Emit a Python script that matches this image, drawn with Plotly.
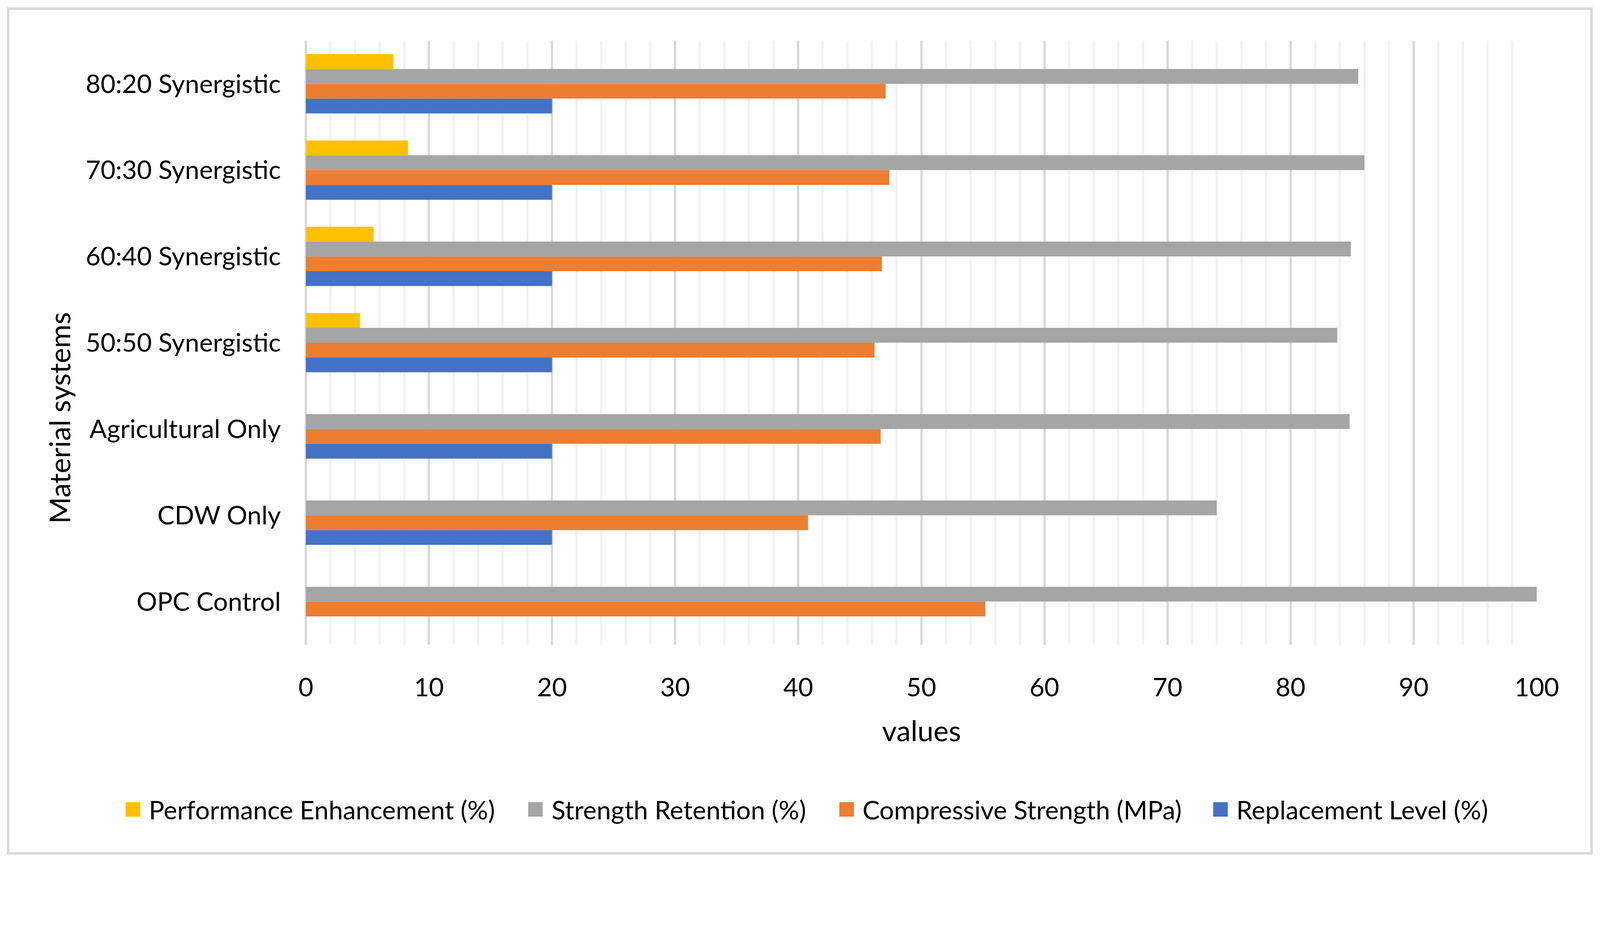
import plotly.graph_objects as go

# ---------------- data ----------------
categories = ["OPC Control", "CDW Only", "Agricultural Only", "50:50 Synergistic",
              "60:40 Synergistic", "70:30 Synergistic", "80:20 Synergistic"]
replacement_level = [0, 20, 20, 20, 20, 20, 20]
compressive_strength = [55.2, 40.8, 46.7, 46.2, 46.8, 47.4, 47.1]
strength_retention = [100, 74.0, 84.8, 83.8, 84.9, 86.0, 85.5]
performance_enhancement = [0, 0, 0, 4.4, 5.5, 8.3, 7.1]

series_names = ["Replacement Level (%)", "Compressive Strength (MPa)",
                "Strength Retention (%)", "Performance Enhancement (%)"]
series_values = [replacement_level, compressive_strength,
                 strength_retention, performance_enhancement]
x_ticks = list(range(0, 101, 10))

# ---------------- styles ----------------
colors = ["#4472C4", "#ED7D31", "#A5A5A5", "#FFC000"]
FONT = "Lato"

# rendering scale compensation (screen px -> css px)
K = 1.077
OFF = 8


def pos(p):
    return p / K - OFF


def size(s):
    return s / K


W, H = 4077, 2189
L = pos(843)
PR = pos(4237)
T = pos(112)
PB = pos(1777)
R = W - PR
B = H - PB
PW, PH = PR - L, PB - T


def px_x(p):
    return (pos(p) - L) / PW


def px_y(p):
    return (PB - pos(p)) / PH


fig = go.Figure()
for name, vals, col in zip(series_names, series_values, colors):
    fig.add_trace(go.Bar(y=categories, x=vals, name=name, orientation="h",
                         marker=dict(color=col, line=dict(width=0)),
                         showlegend=False))

TICK_FS = size(71)
TITLE_FS = size(79)

fig.update_layout(
    width=W, height=H,
    margin=dict(l=L, r=R, t=T, b=B, autoexpand=False),
    paper_bgcolor="white", plot_bgcolor="white",
    barmode="group", bargap=0.313, bargroupgap=0,
    font=dict(family=FONT, size=TICK_FS, color="black"),
)
fig.update_xaxes(range=[0, 100], tickvals=x_ticks, ticktext=[str(v) for v in x_ticks],
                 showgrid=True, gridcolor="#D9D9D9", gridwidth=size(7),
                 zeroline=True, zerolinecolor="#D9D9D9", zerolinewidth=size(7),
                 minor=dict(dtick=2, showgrid=True, gridcolor="#F2F2F2", gridwidth=size(7)),
                 showline=False, ticks="", ticklabelstandoff=int(round(size(70))),
                 tickfont=dict(family=FONT, size=TICK_FS, color="black"))
fig.update_yaxes(type="category", categoryorder="array", categoryarray=categories,
                 showgrid=False, zeroline=False, showline=False, ticks="",
                 ticklabelstandoff=int(round(size(68))),
                 tickfont=dict(family=FONT, size=TICK_FS, color="black"))

shapes = []
annotations = []
# outer chart border
shapes.append(dict(type="rect", xref="paper", yref="paper",
                   x0=px_x(22), x1=px_x(4388), y0=px_y(2352), y1=px_y(24),
                   line=dict(color="#D9D9D9", width=size(7)), fillcolor="rgba(0,0,0,0)",
                   layer="below"))

# axis titles
annotations.append(dict(text="values", xref="paper", yref="paper", x=0.5, y=px_y(2013),
                        xanchor="center", yanchor="middle", showarrow=False,
                        font=dict(family=FONT, size=TITLE_FS, color="black")))
annotations.append(dict(text="Material systems", xref="paper", yref="paper",
                        x=px_x(163), y=px_y(1152), textangle=-90,
                        xanchor="center", yanchor="middle", showarrow=False,
                        font=dict(family=FONT, size=TITLE_FS, color="black")))

# legend (reversed order, as in the reference)
legend_swatch_left = [346, 1456, 2314, 3345]
legend_y = 2231
sw = 40
for left, name, col in zip(legend_swatch_left, series_names[::-1], colors[::-1]):
    shapes.append(dict(type="rect", xref="paper", yref="paper",
                       x0=px_x(left), x1=px_x(left + sw),
                       y0=px_y(legend_y + sw / 2), y1=px_y(legend_y - sw / 2),
                       line=dict(width=0), fillcolor=col))
    annotations.append(dict(text=name, xref="paper", yref="paper",
                            x=px_x(left + sw + 22), y=px_y(legend_y),
                            xanchor="left", yanchor="middle", showarrow=False,
                            font=dict(family=FONT, size=TICK_FS, color="black")))

fig.update_layout(shapes=shapes, annotations=annotations)
fig.write_html("out.html")
